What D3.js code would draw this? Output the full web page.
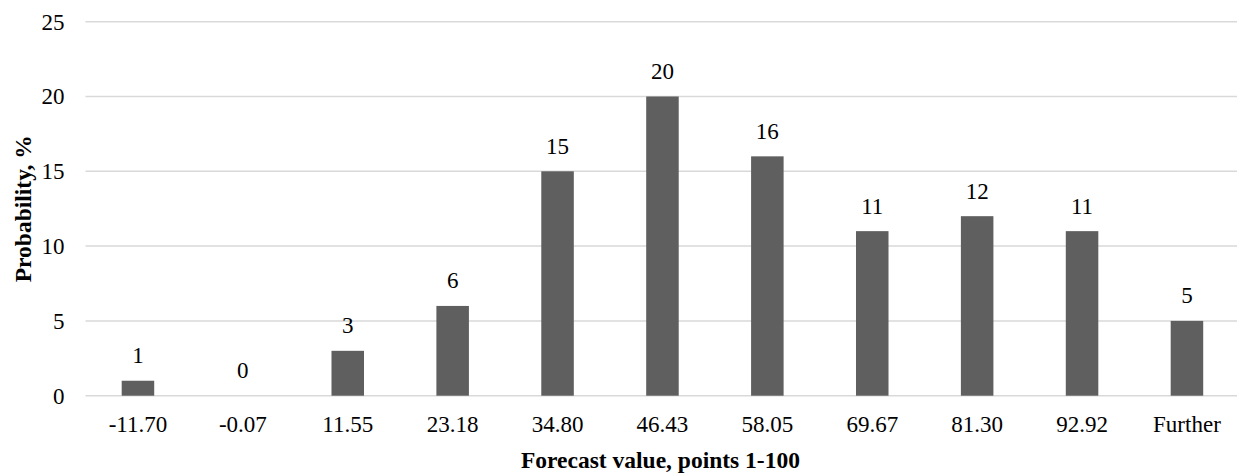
<!DOCTYPE html>
<html>
<head>
<meta charset="utf-8">
<script src="https://cdn.jsdelivr.net/npm/d3@7"></script>
<style>
  html, body { margin: 0; padding: 0; background: #fff; }
  svg { display: block; }
  svg text { font-family: "Times New Roman", "Liberation Serif", "DejaVu Serif", serif; }
</style>
</head>
<body>
<svg id="chart" width="1237" height="473"></svg>
<script>
// Forecast bins and their probabilities (%)
const categories = ["-11.70", "-0.07", "11.55", "23.18", "34.80", "46.43", "58.05", "69.67", "81.30", "92.92", "Further"];
const probabilities = [1, 0, 3, 6, 15, 20, 16, 11, 12, 11, 5];
const yTicks = [0, 5, 10, 15, 20, 25];

const serif = "'Times New Roman', 'Liberation Serif', 'DejaVu Serif', serif";
const svg = d3.select("#chart");
const plot = { left: 85.5, right: 1239.4, top: 21.7, bottom: 395.7 };

const x = d3.scaleBand()
  .domain(categories)
  .range([plot.left, plot.right])
  .paddingInner(0.69)
  .paddingOuter(0.345);

const y = d3.scaleLinear().domain([0, 25]).range([plot.bottom, plot.top]);

// Horizontal gridlines
svg.append("g")
  .selectAll("line")
  .data(yTicks)
  .join("line")
  .attr("x1", plot.left)
  .attr("x2", plot.right)
  .attr("y1", d => y(d))
  .attr("y2", d => y(d))
  .attr("stroke", "#d9d9d9")
  .attr("stroke-width", 1.5);

// Y tick labels
svg.append("g")
  .selectAll("text")
  .data(yTicks)
  .join("text")
  .attr("x", 64.5)
  .attr("y", d => y(d))
  .attr("dy", "0.34em")
  .attr("text-anchor", "end")
  .attr("font-family", serif)
  .attr("font-size", 23)
  .attr("fill", "#000")
  .text(d => d);

// Bars
svg.append("g")
  .selectAll("rect")
  .data(probabilities)
  .join("rect")
  .attr("x", (d, i) => x(categories[i]))
  .attr("y", d => y(d))
  .attr("width", x.bandwidth())
  .attr("height", d => y(0) - y(d))
  .attr("fill", "#5f5f5f");

// Value labels above bars
svg.append("g")
  .selectAll("text")
  .data(probabilities)
  .join("text")
  .attr("x", (d, i) => x(categories[i]) + x.bandwidth() / 2)
  .attr("y", d => y(d) - 17.5)
  .attr("text-anchor", "middle")
  .attr("font-family", serif)
  .attr("font-size", 23)
  .attr("fill", "#000")
  .text(d => d);

// X tick labels
svg.append("g")
  .selectAll("text")
  .data(categories)
  .join("text")
  .attr("x", d => x(d) + x.bandwidth() / 2)
  .attr("y", 432)
  .attr("text-anchor", "middle")
  .attr("font-family", serif)
  .attr("font-size", 23)
  .attr("fill", "#000")
  .text(d => d);

// Axis titles
svg.append("text")
  .attr("x", (plot.left + plot.right) / 2 - 2)
  .attr("y", 468)
  .attr("text-anchor", "middle")
  .attr("font-family", serif)
  .attr("font-size", 23.5)
  .attr("font-weight", "bold")
  .attr("fill", "#000")
  .text("Forecast value, points 1-100");

svg.append("text")
  .attr("transform", `translate(30.5,${(plot.top + plot.bottom) / 2}) rotate(-90)`)
  .attr("text-anchor", "middle")
  .attr("font-family", serif)
  .attr("font-size", 23.5)
  .attr("font-weight", "bold")
  .attr("fill", "#000")
  .text("Probability, %");
</script>
</body>
</html>
